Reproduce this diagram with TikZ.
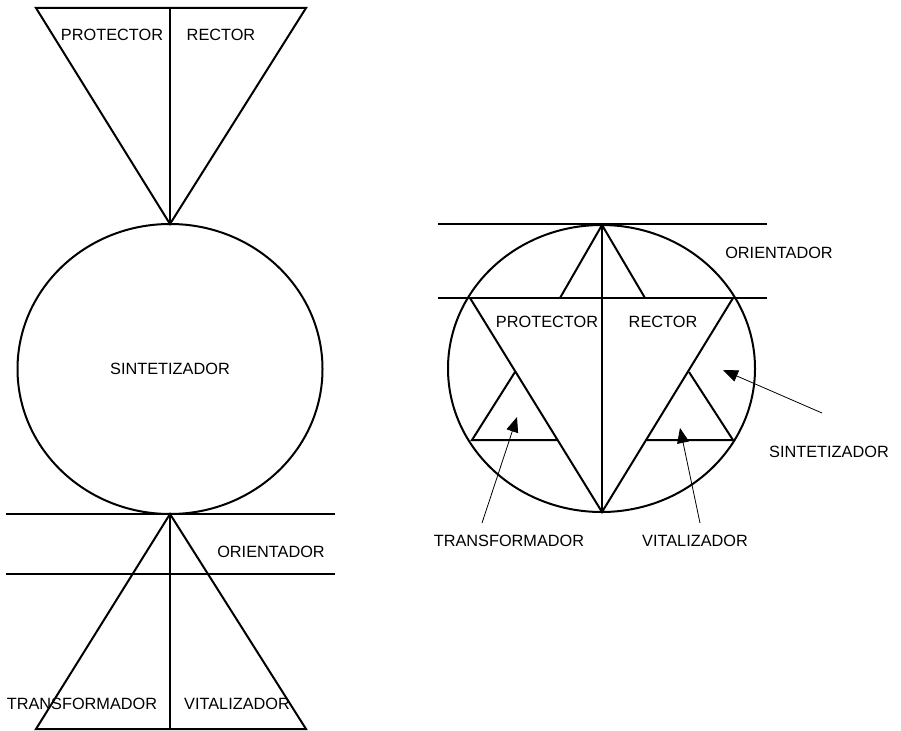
\documentclass[tikz,border=0pt]{standalone}
\usepackage{fontspec}
\setmainfont{Liberation Sans}
\usetikzlibrary{arrows.meta}
\begin{document}
\begin{tikzpicture}[x=1pt,y=-1pt,
  shape line/.style={line width=2pt,line join=miter},
  pointer/.style={line width=0.8pt,-{Triangle[length=15pt,width=12pt]}},
  lbl/.style={font=\fontsize{16.3}{19}\selectfont,inner sep=0pt,anchor=center}]
\useasboundingbox (0,0) rectangle (901,730);
% ---------- left diagram ----------
\coordinate (tl) at (36,8); \coordinate (tr) at (306,8); \coordinate (tm) at (170,8);
\coordinate (ta) at (170,224);
\draw[shape line] (tl) -- (tr) -- (ta) -- cycle;
\draw[shape line] (tm) -- (ta);
\node[lbl] (lprot) at (112,35) {PROTECTOR};
\node[lbl] (lrect) at (221,35) {RECTOR};
\draw[shape line] (170,369) ellipse [x radius=152.5, y radius=145];
\node[lbl] (lsint) at (170,369) {SINTETIZADOR};
\coordinate (l1a) at (6,514); \coordinate (l1b) at (335,514);
\coordinate (l2a) at (6,574); \coordinate (l2b) at (335,574);
\draw[shape line] (l1a) -- (l1b);
\draw[shape line] (l2a) -- (l2b);
\coordinate (ba) at (170,514); \coordinate (bl) at (36,729); \coordinate (br) at (306,729); \coordinate (bm) at (170,729);
\draw[shape line] (ba) -- (bl) -- (br) -- cycle;
\draw[shape line] (ba) -- (bm);
\node[lbl] (lori) at (271,552) {ORIENTADOR};
\node[lbl] (ltra) at (82,704) {TRANSFORMADOR};
\node[lbl] (lvit) at (237,704) {VITALIZADOR};
% ---------- right diagram ----------
\coordinate (r1a) at (438,224); \coordinate (r1b) at (767,224);
\coordinate (r2a) at (438,298); \coordinate (r2b) at (767,298);
\draw[shape line] (r1a) -- (r1b);
\draw[shape line] (r2a) -- (r2b);
\draw[shape line] (601.5,368.5) ellipse [x radius=153.5, y radius=143.5];
\coordinate (ap) at (602,225); \coordinate (sl) at (560,298); \coordinate (sr) at (645,298);
\draw[shape line] (sl) -- (ap) -- (sr);
\coordinate (btl) at (470,298); \coordinate (btr) at (733,298); \coordinate (bb) at (602,512);
\draw[shape line] (btl) -- (bb) -- (btr);
\draw[shape line] (ap) -- (bb);
\coordinate (lta) at (515,372); \coordinate (ltl) at (472,440); \coordinate (ltr) at (558,440);
\draw[shape line] (lta) -- (ltl) -- (ltr);
\coordinate (rta) at (689,372); \coordinate (rtl) at (647,440); \coordinate (rtr) at (733,440);
\draw[shape line] (rta) -- (rtr) -- (rtl);
\node[lbl] (rprot) at (547,322) {PROTECTOR};
\node[lbl] (rrect) at (663,322) {RECTOR};
\node[lbl] (rori) at (779,253) {ORIENTADOR};
\node[lbl] (rsint) at (829,452) {SINTETIZADOR};
\node[lbl] (rtra) at (509,541) {TRANSFORMADOR};
\node[lbl] (rvit) at (695,541) {VITALIZADOR};
\coordinate (p1s) at (482,523); \coordinate (p1e) at (517,417);
\coordinate (p2s) at (700,523); \coordinate (p2e) at (680,428);
\coordinate (p3s) at (822,413); \coordinate (p3e) at (723,370);
\draw[pointer] (p1s) -- (p1e);
\draw[pointer] (p2s) -- (p2e);
\draw[pointer] (p3s) -- (p3e);
\end{tikzpicture}
\end{document}
